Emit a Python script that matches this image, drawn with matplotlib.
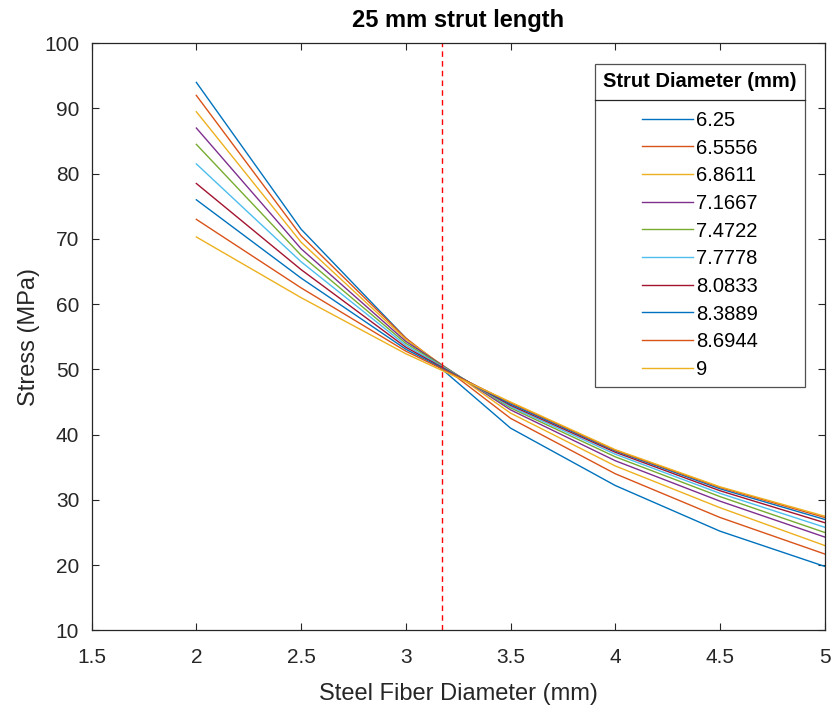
import numpy as np
import matplotlib.pyplot as plt
from matplotlib.lines import Line2D

plt.rcParams['font.family'] = ['Liberation Sans', 'DejaVu Sans']

# steel fiber diameter (mm)
fiber_d = [2, 2.5, 3, 3.5, 4, 4.5, 5]

# strut diameters (legend entries)
strut_labels = ['6.25', '6.5556', '6.8611', '7.1667', '7.4722',
                '7.7778', '8.0833', '8.3889', '8.6944', '9']

# stress (MPa), one list per strut diameter
s_625 = [94.0, 71.5, 54.8, 41.0, 32.2, 25.2, 19.8]
s_656 = [92.0, 70.5, 54.8, 42.5, 34.0, 27.3, 21.7]
s_686 = [89.5, 69.5, 54.6, 43.3, 35.2, 28.8, 23.0]
s_717 = [87.0, 68.5, 54.3, 43.8, 36.0, 29.8, 24.3]
s_747 = [84.5, 67.5, 54.0, 44.1, 36.6, 30.5, 25.0]
s_778 = [81.5, 66.5, 53.7, 44.3, 37.0, 31.0, 25.8]
s_808 = [78.5, 65.3, 53.4, 44.5, 37.3, 31.4, 26.5]
s_839 = [76.0, 64.0, 53.1, 44.7, 37.5, 31.7, 27.0]
s_869 = [73.0, 62.5, 52.8, 44.9, 37.6, 31.9, 27.3]
s_900 = [70.3, 61.0, 52.4, 45.0, 37.7, 32.0, 27.5]
stress = [s_625, s_656, s_686, s_717, s_747, s_778, s_808, s_839, s_869, s_900]

marker_x = 3.175  # dashed reference line

colors = ['#0072BD', '#D95319', '#EDB120', '#7E2F8E', '#77AC30',
          '#4DBEEE', '#A2142F', '#0072BD', '#D95319', '#EDB120']

fig = plt.figure(figsize=(8.33, 7.09), dpi=100)
ax = fig.add_axes([0.110, 0.111, 0.880, 0.828])

for s, lab, c in zip(stress, strut_labels, colors):
    ax.plot(fiber_d, s, color=c, lw=1.0, label=lab)

ax.axvline(marker_x, color='red', lw=1.0, ls=(0, (4, 3)))

ax.set_xlim(1.5, 5)
ax.set_ylim(10, 100)
ax.set_xticks(np.arange(1.5, 5.01, 0.5))
ax.set_xticklabels(['1.5', '2', '2.5', '3', '3.5', '4', '4.5', '5'])
ax.set_yticks(np.arange(10, 101, 10))
ax.tick_params(direction='in', top=True, right=True, labelsize=15,
               length=5, width=0.8, colors='#262626')
ax.tick_params(axis='x', pad=13)
ax.tick_params(axis='y', pad=9)
for sp in ax.spines.values():
    sp.set_color('#262626')
    sp.set_linewidth(0.9)

ax.set_xlabel('Steel Fiber Diameter (mm)', fontsize=17, color='#262626', labelpad=11)
ax.set_ylabel('Stress (MPa)', fontsize=17, color='#262626', labelpad=3)
ax.set_title('25 mm strut length', fontsize=17, fontweight='bold', pad=12)

leg = ax.legend(loc='upper right', bbox_to_anchor=(0.973, 0.964),
                fontsize=14.5, title='Strut Diameter (mm)',
                title_fontproperties={'weight': 'bold', 'size': 14.5},
                frameon=True, fancybox=False, handlelength=2.5,
                handletextpad=0.15, labelspacing=0.43, borderpad=0.4,
                borderaxespad=0)
leg.get_frame().set_edgecolor('#262626')
leg.get_frame().set_linewidth(0.9)
leg._legend_box.sep = 14  # more room between title and entries

# separator line under legend title
fig.canvas.draw()
r = fig.canvas.get_renderer()
lb = leg.get_window_extent(r)
tb = leg.get_title().get_window_extent(r)
hb = leg._legend_handle_box.get_window_extent(r)
yline = 0.5 * (tb.y0 + hb.y1) + 1
inv = fig.transFigure.inverted()
(x0, y0), (x1, _) = inv.transform([(lb.x0, yline), (lb.x1, yline)])
fig.add_artist(Line2D([x0, x1], [y0, y0], color='#262626', lw=0.9))

plt.savefig('out.png', dpi=100)
